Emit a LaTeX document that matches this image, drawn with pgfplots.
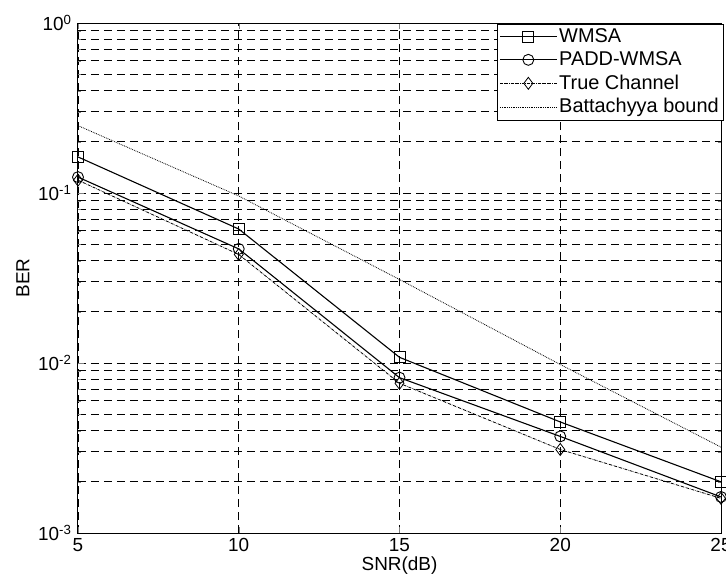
\documentclass[border=0pt]{standalone}
\usepackage{fontspec}
\setmainfont{Liberation Sans}
\usepackage{pgfplots}
\pgfplotsset{compat=1.18}
\begin{document}
\fontsize{19}{22}\selectfont
\begin{tikzpicture}
\begin{axis}[
  scale only axis, width=643bp, height=510bp,
  ymode=log, xmin=5, xmax=25, ymin=1e-3, ymax=1,
  xtick={5,10,15,20,25},
  ytick={1e-3,1e-2,1e-1,1},
  yticklabels={10\textsuperscript{-3},10\textsuperscript{-2},10\textsuperscript{-1},10\textsuperscript{0}},
  xticklabel style={font=\fontsize{19}{22}\selectfont, yshift=1bp},
  yticklabel style={font=\fontsize{19}{22}\selectfont},
  /pgf/number format/assume math mode=true,
  tick align=inside, major tick length=6bp, minor tick length=3bp,
  grid=both,
  major grid style={black, line width=0.8bp, dash pattern=on 8bp off 5bp},
  minor grid style={black, line width=0.8bp, dash pattern=on 8bp off 5bp},
  axis line style={black, line width=1bp},
  xlabel={SNR(dB)}, ylabel={BER},
  xlabel style={font=\fontsize{19}{22}\selectfont, yshift=8bp},
  ylabel style={font=\fontsize{19}{22}\selectfont, yshift=-4bp},
  legend style={at={(0.652,0.998)}, anchor=north west, draw=black, fill=white,
    font=\fontsize{20}{22}\selectfont, cells={anchor=west}, row sep=2.5bp,
    inner sep=2bp},
  legend image code/.code={\draw[mark repeat=2,mark phase=2] plot coordinates {(0cm,0cm)(1cm,0cm)(2cm,0cm)};},
  every axis plot/.append style={black},
]
\addplot[solid, line width=1.1bp, mark=square, mark size=5.5bp, mark options={solid, line width=0.9bp}]
  coordinates {(5,0.163)(10,0.0614)(15,0.0108)(20,0.0045)(25,0.00200)};
\addlegendentry{WMSA}
\addplot[solid, line width=1.1bp, mark=o, mark size=5.5bp, mark options={solid, line width=0.9bp}]
  coordinates {(5,0.124)(10,0.0469)(15,0.0082)(20,0.0037)(25,0.00163)};
\addlegendentry{PADD-WMSA}
\addplot[densely dashdotted, line width=0.8bp, mark=diamond, mark size=6bp, mark options={solid, line width=0.8bp}]
  coordinates {(5,0.119)(10,0.0435)(15,0.0076)(20,0.0031)(25,0.00160)};
\addlegendentry{True Channel}
\addplot[densely dotted, line width=0.8bp, mark=none]
  coordinates {(5,0.249)(10,0.096)(15,0.031)(20,0.0098)(25,0.0032)};
\addlegendentry{Battachyya bound}
\end{axis}
\pgfresetboundingbox
\useasboundingbox ([shift={(-78bp,-54bp)}]current axis.south west) rectangle ([shift={(5bp,23bp)}]current axis.north east);
\end{tikzpicture}
\end{document}
